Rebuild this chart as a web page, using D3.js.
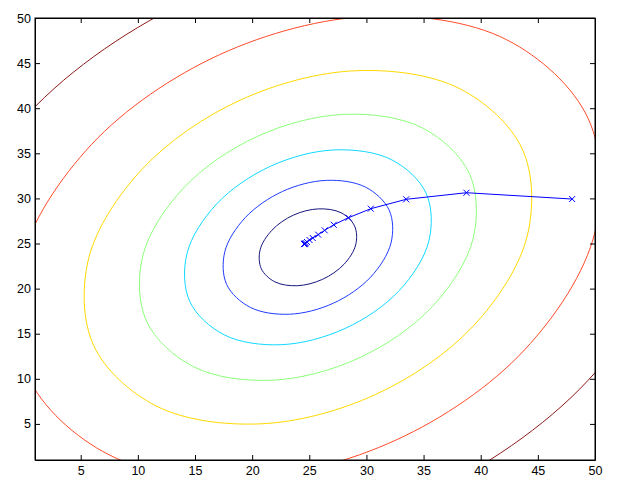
<!DOCTYPE html>
<html>
<head>
<meta charset="utf-8">
<script src="https://d3js.org/d3.v7.min.js"></script>
<style>
  body { margin: 0; background: #fff; }
  .axis text { font-family: "Liberation Sans", Arial, sans-serif; font-size: 12.5px; fill: #000; }
  .axis path, .axis line { stroke: #000; }
</style>
</head>
<body>
<script>

// axis ticks
var xTicks = [5, 10, 15, 20, 25, 30, 35, 40, 45, 50];
var yTicks = [5, 10, 15, 20, 25, 30, 35, 40, 45, 50];

// contour lines as [x, y] points going round each ring
// (the outer two rings run past the frame and get clipped)
var navyContour = [[28.96,26.95],[29.06,24.85],[28.03,22.69],[26.16,21.03],[23.95,20.32],[21.99,20.75],[20.80,22.21],[20.70,24.31],[21.73,26.47],[23.60,28.14],[25.81,28.84],[27.78,28.41]];
var blueContour = [[31.99,28.70],[32.15,25.06],[30.37,21.28],[27.12,18.39],[23.26,17.16],[19.84,17.92],[17.77,20.46],[17.61,24.10],[19.39,27.86],[22.65,30.77],[26.50,32.00],[29.92,31.25]];
var cyanContour = [[35.22,30.58],[35.46,25.27],[32.87,19.78],[28.13,15.58],[22.52,13.78],[17.55,14.88],[14.54,18.58],[14.30,23.89],[16.89,29.38],[21.63,33.58],[27.24,35.38],[32.21,34.28]];
var greenContour = [[39.00,32.77],[39.33,25.53],[35.78,18.03],[29.32,12.29],[21.66,9.84],[14.87,11.34],[10.76,16.39],[10.43,23.63],[13.98,31.13],[20.44,36.87],[28.10,39.32],[34.89,37.82]];
var yellowContour = [[43.64,35.46],[44.07,25.84],[39.37,15.88],[30.78,8.25],[20.61,5.00],[11.59,7.00],[6.13,13.70],[5.69,23.32],[10.40,33.28],[18.98,40.91],[29.15,44.16],[38.17,42.16]];
var redContour = [[49.42,38.81],[49.99,26.23],[43.83,13.20],[32.60,3.22],[19.29,-1.04],[7.49,1.57],[0.34,10.35],[-0.23,22.93],[5.93,35.96],[17.16,45.94],[30.47,50.20],[42.27,47.59]];
var maroonContour = [[56.64,43.00],[57.38,26.71],[49.41,9.85],[34.87,-3.07],[17.65,-8.57],[2.37,-5.20],[-6.88,6.16],[-7.62,22.45],[0.35,39.30],[14.89,52.22],[32.11,57.73],[47.39,54.36]];

// gradient descent steps
var pathX = [48, 38.75, 33.48, 30.38, 28.43, 27.14, 26.35, 25.78, 25.30, 25.02, 24.80, 24.68, 24.62, 24.58, 24.56, 24.55];
var pathY = [29.93, 30.63, 29.90, 28.86, 27.86, 27.08, 26.46, 25.98, 25.61, 25.39, 25.17, 25.05, 24.99, 24.96, 24.94, 24.93];

var margin = {top: 18, right: 29, bottom: 31, left: 35},
    width = 624 - margin.left - margin.right,
    height = 491 - margin.top - margin.bottom;

var x = d3.scaleLinear().domain([1, 50]).range([0, width]);
var y = d3.scaleLinear().domain([1, 50]).range([height, 0]);

var svg = d3.select("body").append("svg")
    .attr("width", 624)
    .attr("height", 491)
  .append("g")
    .attr("transform", "translate(" + margin.left + "," + margin.top + ")");

svg.append("clipPath").attr("id", "plotclip")
  .append("rect").attr("width", width).attr("height", height);

var plot = svg.append("g").attr("clip-path", "url(#plotclip)");

var ring = d3.line()
    .x(function(d) { return x(d[0]); })
    .y(function(d) { return y(d[1]); })
    .curve(d3.curveCatmullRomClosed.alpha(0.5));

var contours = [
  {pts: maroonContour, color: "#8b1a1a"},
  {pts: redContour, color: "#ff4a2a"},
  {pts: yellowContour, color: "#ffd800"},
  {pts: greenContour, color: "#8cff7a"},
  {pts: cyanContour, color: "#10d8ff"},
  {pts: blueContour, color: "#1f3cff"},
  {pts: navyContour, color: "#15157f"}
];

contours.forEach(function(c) {
  plot.append("path")
      .attr("fill", "none")
      .attr("stroke", c.color)
      .attr("stroke-width", 1)
      .attr("d", ring(c.pts));
});

// descent path
var steps = pathX.map(function(v, i) { return [v, pathY[i]]; });

plot.append("path")
    .attr("fill", "none")
    .attr("stroke", "#0000ff")
    .attr("stroke-width", 1)
    .attr("d", d3.line().x(function(d) { return x(d[0]); }).y(function(d) { return y(d[1]); })(steps));

var m = 3;
plot.selectAll(".mark")
    .data(steps)
  .enter().append("path")
    .attr("class", "mark")
    .attr("fill", "none")
    .attr("stroke", "#0000ff")
    .attr("stroke-width", 1)
    .attr("d", function(d) {
      var px = x(d[0]), py = y(d[1]);
      return "M" + (px - m) + "," + (py - m) + "L" + (px + m) + "," + (py + m) +
             "M" + (px - m) + "," + (py + m) + "L" + (px + m) + "," + (py - m);
    });

// axes, ticks pointing inward, box all round
svg.append("g")
    .attr("class", "axis")
    .attr("transform", "translate(0," + height + ")")
    .call(d3.axisBottom(x).tickValues(xTicks).tickSize(-5).tickSizeOuter(0).tickPadding(6));

svg.append("g")
    .attr("class", "axis")
    .call(d3.axisTop(x).tickValues(xTicks).tickSize(-5).tickSizeOuter(0).tickFormat(""));

svg.append("g")
    .attr("class", "axis")
    .call(d3.axisLeft(y).tickValues(yTicks).tickSize(-5).tickSizeOuter(0).tickPadding(4));

svg.append("g")
    .attr("class", "axis")
    .attr("transform", "translate(" + width + ",0)")
    .call(d3.axisRight(y).tickValues(yTicks).tickSize(-5).tickSizeOuter(0).tickFormat(""));

svg.append("rect")
    .attr("width", width)
    .attr("height", height)
    .attr("fill", "none")
    .attr("stroke", "#000")
    .attr("stroke-width", 1);

</script>
</body>
</html>
